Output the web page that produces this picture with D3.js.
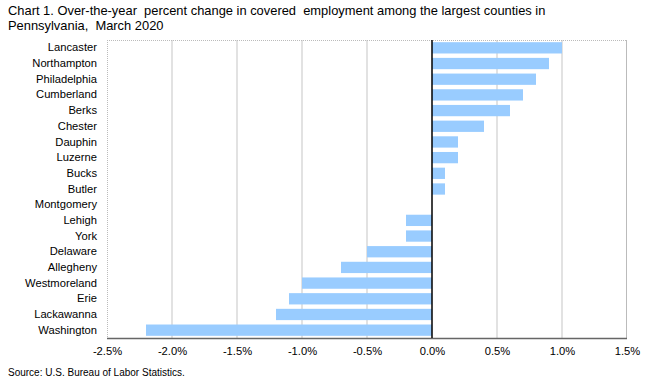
<!DOCTYPE html>
<html><head><meta charset="utf-8">
<script src="https://cdn.jsdelivr.net/npm/d3@7"></script>
<style>body{margin:0;background:#fff}svg{display:block;font-family:"Liberation Sans",Arial,sans-serif}</style>
</head><body>
<svg id="c" width="650" height="381"></svg>
<script>
const categories = ["Lancaster","Northampton","Philadelphia","Cumberland","Berks","Chester","Dauphin","Luzerne","Bucks","Butler","Montgomery","Lehigh","York","Delaware","Allegheny","Westmoreland","Erie","Lackawanna","Washington"];
const values = [1.0,0.9,0.8,0.7,0.6,0.4,0.2,0.2,0.1,0.1,0.0,-0.2,-0.2,-0.5,-0.7,-1.0,-1.1,-1.2,-2.2];
const tickValues = [-2.5,-2.0,-1.5,-1.0,-0.5,0.0,0.5,1.0,1.5];
const titleLines = ["Chart 1. Over-the-year  percent change in covered  employment among the largest counties in","Pennsylvania,  March 2020"];
const sourceText = "Source: U.S. Bureau of Labor Statistics.";

const svg = d3.select("#c");
const m = {left:107, right:627, top:40, bottom:338};
const x = d3.scaleLinear().domain([-2.5,1.5]).range([m.left,m.right]);
const y = d3.scaleBand().domain(categories).range([m.top,m.bottom]).paddingInner(0.28).paddingOuter(0.14);

// title
svg.append("g").selectAll("text").data(titleLines).join("text")
  .attr("x",8).attr("y",(d,i)=>15+i*15).attr("font-size",12.9).attr("fill","#000")
  .style("white-space","pre").text(d=>d);

// gridlines
svg.append("g").selectAll("line").data(tickValues.filter(v=>v!==0 && v!==-2.5 && v!==1.5)).join("line")
  .attr("x1",d=>x(d)).attr("x2",d=>x(d)).attr("y1",m.top).attr("y2",m.bottom)
  .attr("stroke","#cfcfcf").attr("stroke-width",1.2);

// frame
svg.append("line").attr("x1",m.left).attr("x2",m.right).attr("y1",m.top+0.5).attr("y2",m.top+0.5).attr("stroke","#bbb").attr("stroke-dasharray","1,1");
svg.append("line").attr("x1",m.left+0.5).attr("x2",m.left+0.5).attr("y1",m.top).attr("y2",m.bottom).attr("stroke","#bbb").attr("stroke-dasharray","1,1");
svg.append("line").attr("x1",m.right-0.5).attr("x2",m.right-0.5).attr("y1",m.top).attr("y2",m.bottom).attr("stroke","#bbb");

// bars
svg.append("g").selectAll("rect").data(categories).join("rect")
  .attr("x",(d,i)=>x(Math.min(0,values[i])))
  .attr("width",(d,i)=>Math.abs(x(values[i])-x(0)))
  .attr("y",d=>y(d)).attr("height",y.bandwidth())
  .attr("fill","#99ccff");

// bottom axis line & zero line
svg.append("line").attr("x1",m.left).attr("x2",m.right).attr("y1",m.bottom+0.5).attr("y2",m.bottom+0.5).attr("stroke","#666").attr("stroke-width",1.5);
svg.append("line").attr("x1",x(0)).attr("x2",x(0)).attr("y1",m.top).attr("y2",m.bottom).attr("stroke","#000").attr("stroke-width",1.5);

// x axis labels
const xAxis = d3.axisBottom(x).tickValues(tickValues).tickSize(0).tickPadding(9)
  .tickFormat(d=>d3.format(".1f")(d).replace("\u2212","-")+"%");
const gx = svg.append("g").attr("transform",`translate(0,${m.bottom})`).call(xAxis);
gx.select(".domain").remove();
gx.selectAll("text").attr("font-size",11.2).attr("fill","#000").style("font-family","inherit");

// y axis labels
const yAxis = d3.axisLeft(y).tickSize(0).tickPadding(10);
const gy = svg.append("g").attr("transform",`translate(${m.left},0)`).call(yAxis);
gy.select(".domain").remove();
gy.selectAll("text").attr("font-size",11.2).attr("fill","#000").style("font-family","inherit");

// source
svg.append("text").attr("x",8).attr("y",376).attr("font-size",10).attr("fill","#000").text(sourceText);
</script>
</body></html>
